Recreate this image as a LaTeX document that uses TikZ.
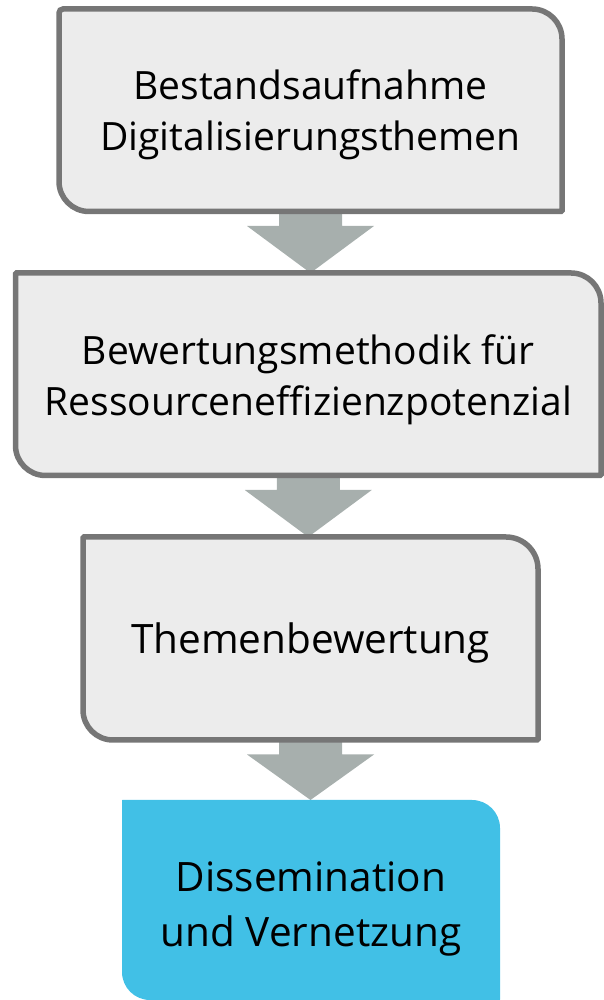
\documentclass[tikz,border=0pt]{standalone}
\usepackage{fontspec}
\setmainfont{Open Sans}
\usetikzlibrary{calc}
\definecolor{boxfill}{HTML}{ECECEC}
\definecolor{boxedge}{HTML}{767676}
\definecolor{arrowgray}{HTML}{A7AFAD}
\definecolor{bluefill}{HTML}{41C0E6}
\newcommand{\roundbox}[6]{% name, style, rTL, rTR, rBR, rBL
  \path[#2] let \p1=(#1.north west), \p2=(#1.south east) in
    (\x1+#3,\y1) -- (\x2-#4,\y1) arc[start angle=90,end angle=0,radius=#4]
    -- (\x2,\y2+#5) arc[start angle=0,end angle=-90,radius=#5]
    -- (\x1+#6,\y2) arc[start angle=-90,end angle=-180,radius=#6]
    -- (\x1,\y1-#3) arc[start angle=180,end angle=90,radius=#3] -- cycle;}
\newcommand{\fatarrow}[2]{% from, to
  \fill[arrowgray] let \p1=(#1.south), \p2=(#2.north) in
    (\x1-31.5pt,\y1) -- (\x1+31.5pt,\y1) -- (\x1+31.5pt,\y1-14.5pt)
    -- (\x1+63.5pt,\y1-14.5pt) -- (\x1,\y2) -- (\x1-63.5pt,\y1-14.5pt)
    -- (\x1-31.5pt,\y1-14.5pt) -- cycle;}
\tikzset{
  boxnode/.style={rectangle, inner sep=0pt, outer sep=0pt, align=center, text=black},
  smalltext/.style={font={\fontsize{39}{51}\selectfont}},
  bigtext/.style={font={\fontsize{40.5}{55}\selectfont}},
  greybox/.style={fill=boxfill, draw=boxedge, line width=5.5pt},
  bluebox/.style={fill=bluefill}
}
\begin{document}
\begin{tikzpicture}[x=1pt,y=1pt]
\useasboundingbox (0,0) rectangle (603,1000);
% box frames (invisible nodes hold the geometry)
\path (310.5,889.75) node[boxnode, minimum width=503pt, minimum height=202.5pt] (b1) {};
\path (308.25,625.75) node[boxnode, minimum width=585.5pt, minimum height=202.5pt] (b2) {};
\path (310.5,361.5) node[boxnode, minimum width=455pt, minimum height=203pt] (b3) {};
\path (311,100) node[boxnode, minimum width=378pt, minimum height=200pt] (b4) {};
% arrows
\fatarrow{b1}{b2}
\fatarrow{b2}{b3}
\fatarrow{b3}{b4}
% outlines
\roundbox{b1}{greybox}{4pt}{30pt}{1pt}{30pt}
\roundbox{b2}{greybox}{1pt}{30pt}{1pt}{30pt}
\roundbox{b3}{greybox}{1pt}{32pt}{1pt}{30pt}
\roundbox{b4}{bluebox}{0.5pt}{28pt}{0.5pt}{28pt}
% texts
\node[boxnode, smalltext] (t1) at ($(b1.center)+(0,-5)$) {Bestandsaufnahme\\Digitalisierungsthemen};
\node[boxnode, smalltext] (t2) at ($(b2.center)+(0,-6)$) {Bewertungsmethodik für\\Ressourceneffizienzpotenzial};
\node[boxnode, bigtext] (t3) at ($(b3.center)+(0,-4)$) {Themenbewertung};
\node[boxnode, bigtext] (t4) at ($(b4.center)+(0,-9)$) {Dissemination\\und Vernetzung};
\end{tikzpicture}
\end{document}
